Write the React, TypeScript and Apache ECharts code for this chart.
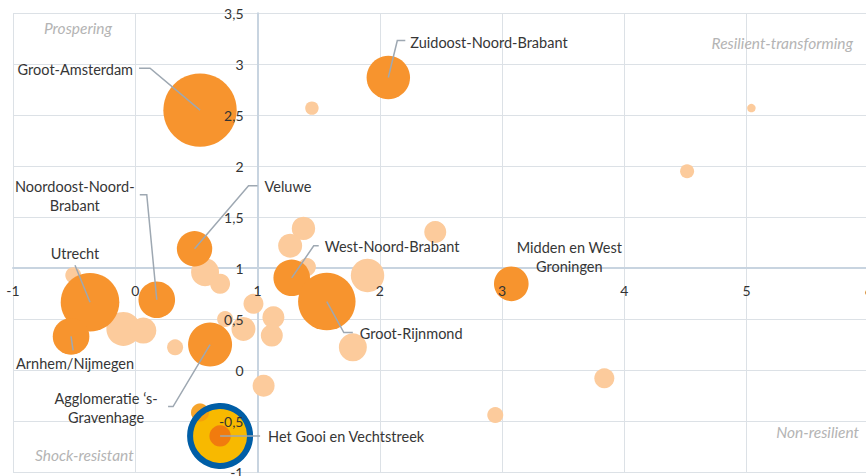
import React, { useEffect, useRef } from "react";
import * as echarts from "echarts";

// ---- Axis ranges ----
const X_MIN = -1;
const X_MAX = 6;
const X_STEP = 1;
const Y_MIN = -1;
const Y_MAX = 3.5;
const Y_STEP = 0.5;
const CROSS_X = 1; // vertical axis drawn at x = 1
const CROSS_Y = 1; // horizontal axis drawn at y = 1

// ---- Labelled regions (dark orange bubbles) ----
const regionNames = [
  "Groot-Amsterdam",
  "Zuidoost-Noord-Brabant",
  "Veluwe",
  "Noordoost-Noord-Brabant",
  "Utrecht",
  "Arnhem/Nijmegen",
  "West-Noord-Brabant",
  "Groot-Rijnmond",
  "Agglomeratie \u2018s-Gravenhage",
  "Midden en West Groningen",
  "Het Gooi en Vechtstreek",
];
const regionLabels = [
  "Groot-Amsterdam",
  "Zuidoost-Noord-Brabant",
  "Veluwe",
  "Noordoost-Noord-\nBrabant",
  "Utrecht",
  "Arnhem/Nijmegen",
  "West-Noord-Brabant",
  "Groot-Rijnmond",
  "Agglomeratie \u2018s-\nGravenhage",
  "Midden en West\nGroningen",
  "Het Gooi en Vechtstreek",
];
const regionX = [0.53, 2.07, 0.485, 0.176, -0.37, -0.525, 1.28, 1.567, 0.612, 3.076, 0.694];
const regionY = [2.55, 2.87, 1.19, 0.69, 0.666, 0.33, 0.905, 0.672, 0.25, 0.846, -0.646];
const regionSize = [1347, 471, 313, 335, 858, 335, 335, 824, 484, 300, 114];

// ---- Other regions (light bubbles) ----
const otherX = [1.445, 5.04, 4.514, 1.376, 1.267, 1.404, 2.454, 1.9, 0.571, 0.694, 0.967, 1.13, 1.117, 0.885, 0.735, 1.78, 0.326, 1.05, -0.097, 0.066, -0.507, 0.53, 2.945, 3.837];
const otherY = [2.57, 2.57, 1.95, 1.39, 1.22, 1.01, 1.354, 0.928, 0.96, 0.847, 0.65, 0.518, 0.338, 0.404, 0.5, 0.223, 0.223, -0.154, 0.404, 0.387, 0.93, -0.416, -0.442, -0.081];
const otherSize = [45, 18, 49, 137, 144, 81, 121, 279, 196, 100, 100, 121, 121, 144, 64, 196, 64, 121, 289, 169, 64, 81, 64, 100];

// highlighted region and the light bubble lying under the highlight
const HIGHLIGHT_REGION = 10;
const OTHER_UNDER_HIGHLIGHT = 21;

// ---- Quadrant labels ----
const quadrantLabels = ["Prospering", "Resilient-transforming", "Shock-resistant", "Non-resilient"];

// ---- Layout (pixels) ----
const GRID = { left: 13, top: 13.3, width: 855.75, height: 458.7, outerBoundsMode: "none", containLabel: false };
// label offsets relative to the bubble centre
const labelLayout: any[] = [
  { t: [-67, -41], align: "right", line: [[0, 0], [-50, -42], [-61, -42]] },
  { t: [22, -35], align: "left", line: [[0, 0], [9, -37], [17, -37]] },
  { t: [70, -62], align: "left", line: [[0, 0], [54, -63], [63, -63]] },
  { t: [-82, -104], align: "center", line: [[0, 0], [-10, -105], [-17, -105]] },
  { t: [-15, -49], align: "center", line: [[0, 0], [-15, -37]] },
  { t: [4, 27], align: "center", line: [[0, 0], [2, 14]] },
  { t: [33, -31], align: "left", line: [[0, 0], [22, -32], [27, -32]] },
  { t: [33, 32], align: "left", line: [[0, 0], [17, 31], [26, 31]] },
  { t: [-104, 63], align: "center", line: [[0, 0], [-37, 62], [-42, 62]] },
  { t: [58, -27], align: "center", line: null },
  { t: [48, 1], align: "left", line: [[0, 0], [40, 0]] },
];

const FONT = "Lato";
const DARK = "#F7942E";
const LIGHT = "#FCCB9C";
const QUAD_STYLE = { fill: "#b4b4b4", fontStyle: "italic", fontSize: 15.5, fontFamily: FONT };
const sizeToSymbol = (v: number) => 2 * Math.sqrt(v);
const fmt = (v: number) => String(v).replace(".", ",");

export default function App() {
  const ref = useRef<HTMLDivElement>(null);
  useEffect(() => {
    if (!ref.current) return;
    const chart = echarts.init(ref.current, undefined, { renderer: "svg" });

    const xOffset = -((CROSS_Y - Y_MIN) / (Y_MAX - Y_MIN)) * GRID.height;
    const yOffset = -((CROSS_X - X_MIN) / (X_MAX - X_MIN)) * GRID.width;

    const baseX = { type: "value", min: X_MIN, max: X_MAX, interval: X_STEP, position: "bottom" };
    const baseY = { type: "value", min: Y_MIN, max: Y_MAX, interval: Y_STEP, position: "left" };
    const hidden = {
      axisLine: { show: false, onZero: false },
      axisTick: { show: false },
      axisLabel: { show: false },
      splitLine: { show: false },
    };
    const labelStyle = { fontFamily: FONT, fontSize: 14, color: "#333333", formatter: fmt };

    const lightData = otherX.map((x, i) => [x, otherY[i], otherSize[i]]);
    const darkData = regionX.map((x, i) => [x, regionY[i], regionSize[i], regionNames[i]]);
    const hl = [regionX[HIGHLIGHT_REGION], regionY[HIGHLIGHT_REGION]];

    const option: any = {
      animation: false,
      grid: GRID,
      xAxis: [
        { ...baseX, ...hidden, splitLine: { show: true, lineStyle: { color: "#dce1e6", width: 1 } } },
        { ...baseX, ...hidden, offset: xOffset, axisLine: { show: true, onZero: false, lineStyle: { color: "#c8d4e0", width: 2 } } },
        { ...baseX, ...hidden, offset: xOffset, z: 10, axisLabel: { show: true, margin: 15, showMinLabel: true, showMaxLabel: true, ...labelStyle } },
      ],
      yAxis: [
        { ...baseY, ...hidden, splitLine: { show: true, lineStyle: { color: "#dce1e6", width: 1 } } },
        { ...baseY, ...hidden, offset: yOffset, axisLine: { show: true, onZero: false, lineStyle: { color: "#c8d4e0", width: 2 } } },
        { ...baseY, ...hidden, offset: yOffset, z: 10, axisLabel: { show: true, margin: 14, showMinLabel: true, showMaxLabel: true, ...labelStyle } },
      ],
      graphic: [
        { type: "text", left: 44, top: 20, z: 1, style: { text: quadrantLabels[0], ...QUAD_STYLE } },
        { type: "text", right: 13, top: 35, z: 1, style: { text: quadrantLabels[1], ...QUAD_STYLE } },
        { type: "text", left: 35, top: 447, z: 1, style: { text: quadrantLabels[2], ...QUAD_STYLE } },
        { type: "text", right: 7, top: 424, z: 1, style: { text: quadrantLabels[3], ...QUAD_STYLE } },
      ],
      series: [
        {
          type: "scatter",
          data: lightData,
          symbolSize: (v: number[]) => sizeToSymbol(v[2]),
          itemStyle: { color: LIGHT, opacity: 1 },
          z: 2,
          silent: true,
        },
        {
          type: "scatter",
          data: darkData,
          symbolSize: (v: number[]) => sizeToSymbol(v[2]),
          itemStyle: { color: DARK, opacity: 1 },
          z: 2,
          silent: true,
        },
        {
          type: "scatter",
          data: [hl],
          symbolSize: 60,
          itemStyle: { color: "#F8B900", opacity: 1 },
          z: 3,
          silent: true,
        },
        {
          type: "scatter",
          data: [
            { value: [otherX[OTHER_UNDER_HIGHLIGHT], otherY[OTHER_UNDER_HIGHLIGHT], otherSize[OTHER_UNDER_HIGHLIGHT]], itemStyle: { color: "#F39A10" } },
            { value: [regionX[HIGHLIGHT_REGION], regionY[HIGHLIGHT_REGION], regionSize[HIGHLIGHT_REGION]], itemStyle: { color: "#EF6B12" } },
          ],
          symbolSize: (v: number[]) => sizeToSymbol(v[2]),
          z: 4,
          silent: true,
        },
        {
          type: "scatter",
          data: [hl],
          symbolSize: 60,
          itemStyle: { color: "rgba(0,0,0,0)", borderColor: "#005EA6", borderWidth: 6, opacity: 1 },
          z: 5,
          silent: true,
        },
        {
          type: "custom",
          coordinateSystem: "cartesian2d",
          data: darkData,
          z: 6,
          silent: true,
          clip: false,
          renderItem: (params: any, api: any) => {
            const i = params.dataIndex;
            const c = api.coord([api.value(0), api.value(1)]);
            const lay = labelLayout[i];
            const children: any[] = [];
            if (lay.line) {
              children.push({
                type: "polyline",
                shape: { points: lay.line.map((p: number[]) => [c[0] + p[0], c[1] + p[1]]) },
                style: { stroke: "#9ea8b2", lineWidth: 1.5, fill: "none" },
              });
            }
            children.push({
              type: "text",
              x: c[0] + lay.t[0],
              y: c[1] + lay.t[1],
              style: {
                text: regionLabels[i],
                fill: "#363636",
                fontSize: 14.5,
                fontFamily: FONT,
                align: lay.align,
                verticalAlign: "middle",
                lineHeight: 19,
              },
            });
            return { type: "group", children };
          },
        },
      ],
    };
    chart.setOption(option);
    return () => chart.dispose();
  }, []);
  return <div ref={ref} style={{ position: "absolute", left: 0, top: 0, width: 866, height: 476 }} />;
}
